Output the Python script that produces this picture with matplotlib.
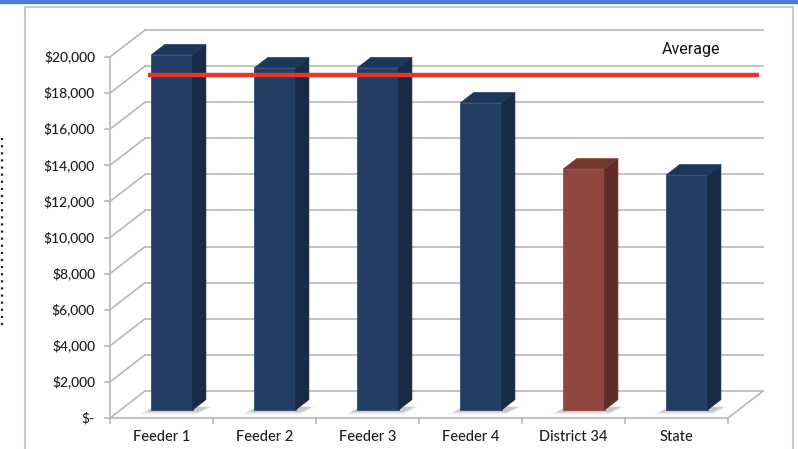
import matplotlib
matplotlib.use("Agg")
import matplotlib.pyplot as plt
from matplotlib.patches import Polygon, Rectangle

categories = ["Feeder 1", "Feeder 2", "Feeder 3", "Feeder 4", "District 34", "State"]
values = [19670, 18950, 18950, 17010, 13350, 13020]
highlight = "District 34"
tick_values = [0, 2000, 4000, 6000, 8000, 10000, 12000, 14000, 16000, 18000, 20000]
tick_labels = ["$-", "$2,000", "$4,000", "$6,000", "$8,000", "$10,000",
               "$12,000", "$14,000", "$16,000", "$18,000", "$20,000"]
average_value = 19000

# pseudo 3d geometry (depth offset of the back wall in data units)
DX = 0.34
DY = 1496
d0, d1 = 0.30, 0.68
bar_w = 0.40

navy = ("#223e64", "#172b47", "#1d3659")
brick = ("#8f463e", "#612c27", "#77382f")
grid_c = "#b8b8b8"

fig = plt.figure(figsize=(7.98, 4.49), dpi=100)
ax = fig.add_axes([0, 0, 1, 1])
# map: 103 px per category, 18.05 px per $1000, origin at px (110, 418)
ax.set_xlim(-0.5 - 110 / 103, -0.5 + 688 / 103)
ax.set_ylim(-31 / 0.01805, 418 / 0.01805)
ax.axis("off")

# slide decorations
fig.patches.append(Rectangle((0, 1 - 3 / 449), 1, 3 / 449, transform=fig.transFigure,
                             color="#4a7cd3", zorder=0))
fig.patches.append(Rectangle((25 / 798, -0.05), 768 / 798, 1 - 7 / 449 + 0.05,
                             transform=fig.transFigure, fill=False,
                             edgecolor="#c9c9c9", lw=1.5, zorder=0))
fig.lines.append(plt.Line2D([2 / 798, 2 / 798], [1 - 138 / 449, 1 - 325 / 449],
                            transform=fig.transFigure, color="#222222",
                            lw=1.6, ls=(0, (1, 2.2))))

x0, x1 = -0.5, len(categories) - 0.5

# back wall gridlines + side wall diagonals
for v, lab in zip(tick_values, tick_labels):
    ax.plot([x0 + DX, x1 + DX], [v + DY, v + DY], color=grid_c, lw=1.2, zorder=1)
    ax.plot([x0, x0 + DX], [v, v + DY], color=grid_c, lw=1.2, zorder=1)
    ax.plot([x0 - 0.05, x0], [v, v], color=grid_c, lw=1.2, zorder=1)
    ax.text(x0 - 0.145, v, lab, ha="right", va="center",
            fontsize=10, family="Lato", weight="medium", color="#1e1e1e")
ax.plot([x0, x0], [0, tick_values[-1]], color=grid_c, lw=1.2, zorder=1)

# floor
ax.plot([x0, x1], [0, 0], color=grid_c, lw=1.2, zorder=1)
ax.plot([x1, x1 + DX], [0, DY], color=grid_c, lw=1.2, zorder=1)
for i in range(len(categories) + 1):
    ax.plot([x0 + i, x0 + i], [0, -280], color=grid_c, lw=1.2, zorder=1)

# bars
for i, (cat, v) in enumerate(zip(categories, values)):
    front, side, top = brick if cat == highlight else navy
    fx = i + d0 * DX - bar_w / 2
    fy = d0 * DY
    ddx = (d1 - d0) * DX
    ddy = (d1 - d0) * DY
    # soft shadow on the floor
    for k, a in [(1.0, 0.08), (0.7, 0.12), (0.45, 0.16)]:
        sh = Polygon([(fx - 0.12 * k, fy - 250 * k), (fx + bar_w + 0.05, fy - 250 * k),
                      (fx + bar_w + ddx + 0.06 * k, fy + ddy * 0.3),
                      (fx + 0.02, fy + ddy * 0.3)],
                     closed=True, color="#555555", alpha=a, lw=0, zorder=2)
        ax.add_patch(sh)
    ax.add_patch(Polygon([(fx, fy), (fx + bar_w, fy), (fx + bar_w, fy + v), (fx, fy + v)],
                         closed=True, facecolor=front, edgecolor=front, lw=0.5, zorder=3))
    ax.add_patch(Polygon([(fx + bar_w, fy), (fx + bar_w + ddx, fy + ddy),
                          (fx + bar_w + ddx, fy + ddy + v), (fx + bar_w, fy + v)],
                         closed=True, facecolor=side, edgecolor=side, lw=0.5, zorder=3))
    ax.add_patch(Polygon([(fx, fy + v), (fx + bar_w, fy + v),
                          (fx + bar_w + ddx, fy + ddy + v), (fx + ddx, fy + ddy + v)],
                         closed=True, facecolor=top, edgecolor=top, lw=0.5, zorder=3))
    ax.text(i, -1050, cat, ha="center", va="center", fontsize=10.5, family="Lato",
            weight="medium", color="#1e1e1e")

# average line
ax.plot([-0.13, 5.80], [average_value, average_value], color="#e8362a", lw=3.2,
        solid_capstyle="butt", zorder=5)
ax.text(5.14, 20400, "Average", ha="center", va="center", fontsize=11.5,
        family="Roboto", color="#111111")

fig.savefig("out.png", dpi=100)
